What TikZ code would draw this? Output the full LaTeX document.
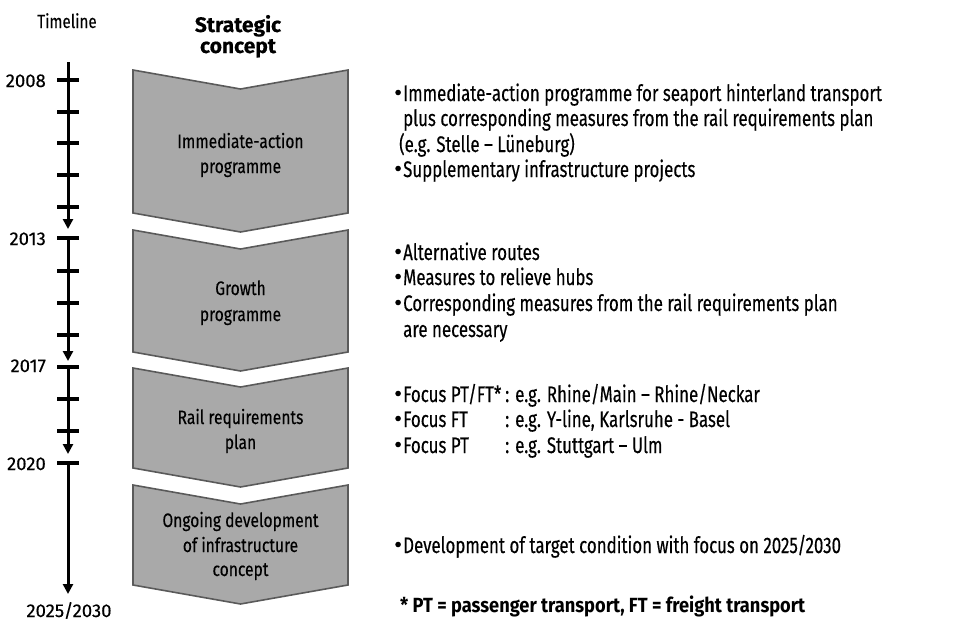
\documentclass[tikz,border=0pt]{standalone}
\usepackage{fontspec}
\setmainfont[FakeStretch=0.8,FakeBold=0.3]{Fira Sans}
\newfontfamily\narrowfont[FakeStretch=0.75,FakeBold=0.3]{Fira Sans}
\newfontfamily\widefont[FakeBold=0.3]{Fira Sans}
\newfontfamily\footfont[FakeStretch=0.89]{Fira Sans}
\usetikzlibrary{arrows.meta}
\definecolor{chevfill}{HTML}{A9A9A9}
\definecolor{chevline}{HTML}{5A5A5A}
\tikzset{
  chev/.style={fill=chevfill,draw=chevline,line width=1.6pt,line join=miter},
  axis/.style={line width=3pt,-{Triangle[width=10pt,length=10pt]}},
  tick/.style={line width=3.2pt},
  txt/.style={inner sep=0pt,anchor=base west,font=\narrowfont\fontsize{22.5}{25}\selectfont},
  ctxt/.style={inner sep=0pt,anchor=base,font=\fontsize{19.5}{22}\selectfont},
  ytxt/.style={inner sep=0pt,anchor=base east,font=\widefont\fontsize{18.5}{20}\selectfont},
}
\newcommand{\bul}{\makebox[8pt][l]{{\widefont\fontsize{24}{25}\selectfont\raisebox{0.3pt}{\kern-1pt•}}}}
\begin{document}
\begin{tikzpicture}[x=1pt,y=-1pt]
\useasboundingbox (0,0) rectangle (962,622);
% headers
\node[inner sep=0pt,anchor=base,font=\fontsize{19}{20}\selectfont] (tl) at (67,28) {Timeline};
\node[inner sep=0pt,anchor=base,font=\widefont\bfseries\fontsize{21}{25}\selectfont] (sc1) at (238,32) {Strategic};
\node[inner sep=0pt,anchor=base,font=\widefont\bfseries\fontsize{21}{25}\selectfont] (sc2) at (238,53) {concept};
% timeline coordinates
\coordinate (a0) at (68,62);
\coordinate (a1) at (68,229);
\coordinate (b0) at (68,238);
\coordinate (b1) at (68,361);
\coordinate (c0) at (68,367);
\coordinate (c1) at (68,454);
\coordinate (d0) at (68,463);
\coordinate (d1) at (68,594);
\draw[axis] (a0) -- (a1);
\draw[axis] (b0) -- (b1);
\draw[axis] (c0) -- (c1);
\draw[axis] (d0) -- (d1);
\foreach \y in {80,112,143,175,207,238,271,303,335,367,399,431,463}{
  \draw[tick] (57,\y) -- (79,\y);
}
\node[ytxt] (y1) at (46,87) {2008};
\node[ytxt] (y2) at (46,245) {2013};
\node[ytxt] (y3) at (46,372) {2017};
\node[ytxt] (y4) at (46,470) {2020};
\node[inner sep=0pt,anchor=base,font=\widefont\fontsize{18.5}{20}\selectfont] (y5) at (69,617) {2025/2030};
% chevrons
\draw[chev] (133,70) -- (240.5,89) -- (348,70) -- (348,213) -- (240.5,232) -- (133,213) -- cycle;
\draw[chev] (133,230) -- (240.5,249) -- (348,230) -- (348,352) -- (240.5,371) -- (133,352) -- cycle;
\draw[chev] (133,368) -- (240.5,387) -- (348,368) -- (348,468) -- (240.5,487) -- (133,468) -- cycle;
\draw[chev] (133,485) -- (240.5,504) -- (348,485) -- (348,585) -- (240.5,604) -- (133,585) -- cycle;
\node[ctxt] (c1a) at (240.5,148) {Immediate-action};
\node[ctxt] (c1b) at (240.5,173) {programme};
\node[ctxt] (c2a) at (240.5,295) {Growth};
\node[ctxt] (c2b) at (240.5,321) {programme};
\node[ctxt] (c3a) at (240.5,424) {Rail requirements};
\node[ctxt] (c3b) at (240.5,449) {plan};
\node[ctxt] (c4a) at (240.5,527) {Ongoing development};
\node[ctxt] (c4b) at (240.5,552) {of infrastructure};
\node[ctxt] (c4c) at (240.5,576) {concept};
% right texts
\node[txt] (r1) at (395,101) {\bul Immediate-action programme for seaport hinterland transport};
\node[txt] (r2) at (403,126) {plus corresponding measures from the rail requirements plan};
\node[txt] (r3) at (399,152) {(e.g. Stelle – Lüneburg)};
\node[txt] (r4) at (395,177) {\bul Supplementary infrastructure projects};
\node[txt] (r5) at (395,260) {\bul Alternative routes};
\node[txt] (r6) at (395,285) {\bul Measures to relieve hubs};
\node[txt] (r7) at (395,311) {\bul Corresponding measures from the rail requirements plan};
\node[txt] (r8) at (403,337) {are necessary};
\node[txt] (r9) at (395,402) {\bul \makebox[102pt][l]{Focus PT/FT*}: e.g. Rhine/Main – Rhine/Neckar};
\node[txt] (r10) at (395,427) {\bul \makebox[102pt][l]{Focus FT}: e.g. Y-line, Karlsruhe - Basel};
\node[txt] (r11) at (395,453) {\bul \makebox[102pt][l]{Focus PT}: e.g. Stuttgart – Ulm};
\node[txt] (r12) at (395,553) {\bul Development of target condition with focus on 2025/2030};
\node[inner sep=0pt,anchor=base west,font=\footfont\bfseries\fontsize{20.5}{25}\selectfont] (fn) at (400,612) {* PT = passenger transport, FT = freight transport};
\end{tikzpicture}
\end{document}
